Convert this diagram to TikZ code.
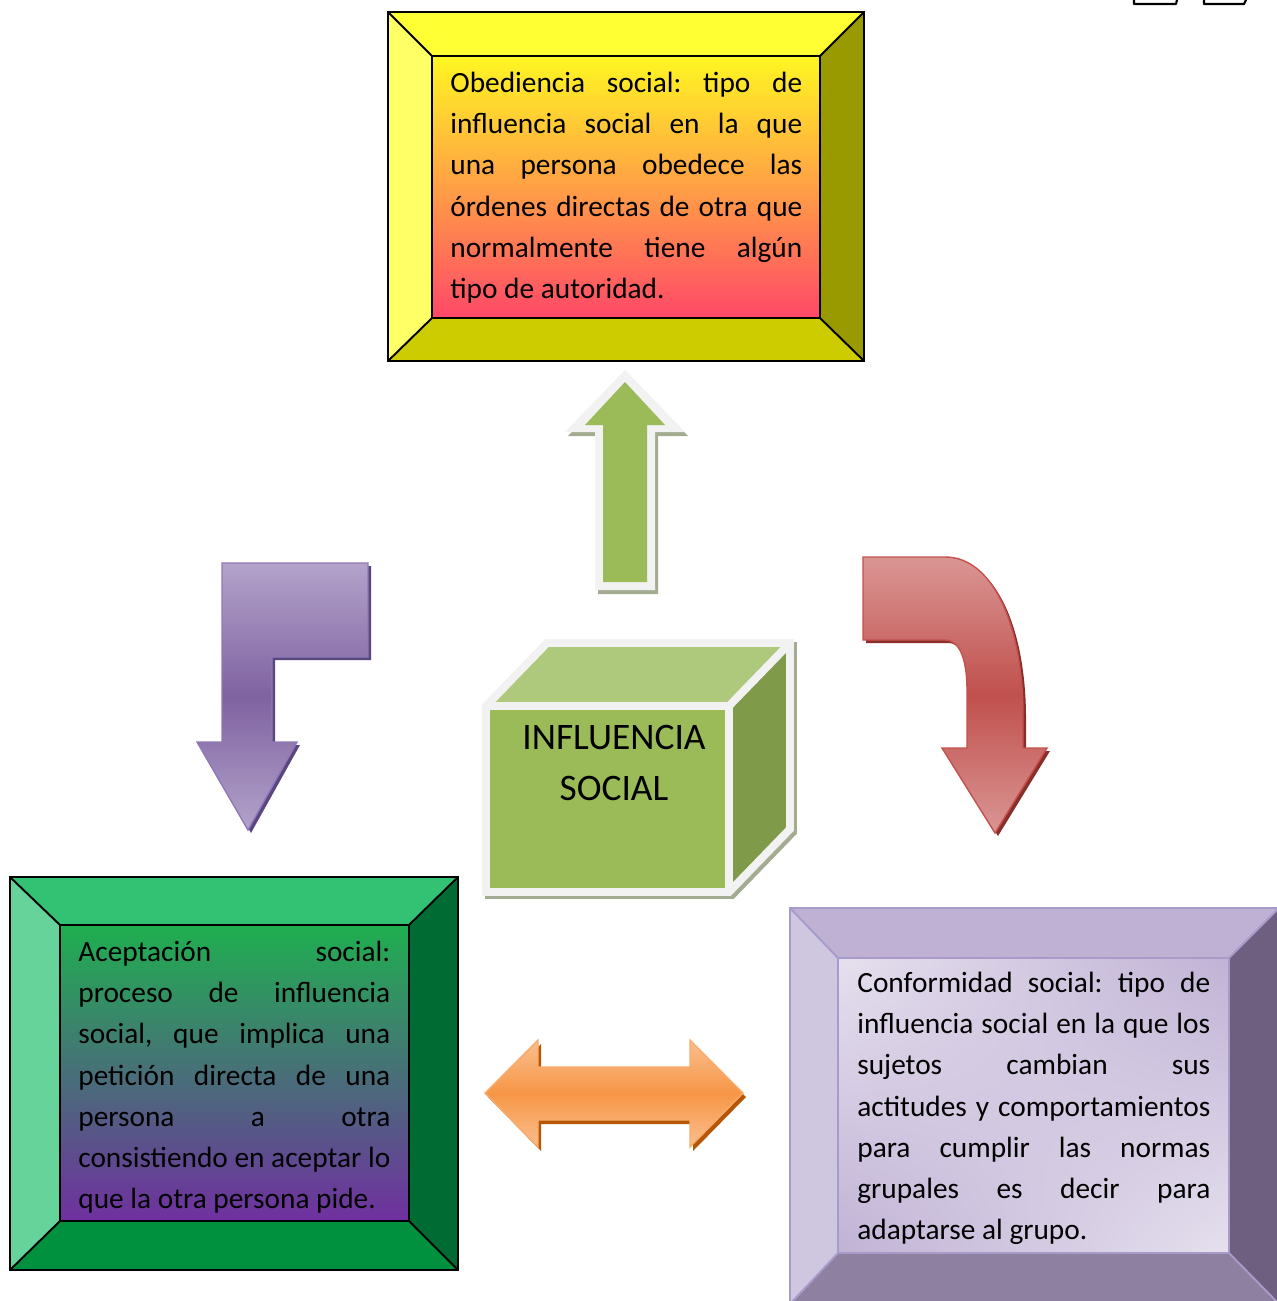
\documentclass[tikz,border=0pt]{standalone}
\usepackage{fontspec}
\setmainfont{Carlito}
\usetikzlibrary{calc,shadings}

\definecolor{ytop}{HTML}{FFFF33}
\definecolor{yleft}{HTML}{FFFF66}
\definecolor{yright}{HTML}{999900}
\definecolor{ybot}{HTML}{CCCC00}
\definecolor{yinTop}{HTML}{FFF722}
\definecolor{yinBot}{HTML}{FF4868}
\definecolor{gtop}{HTML}{33C173}
\definecolor{gleft}{HTML}{66D39A}
\definecolor{gright}{HTML}{006B33}
\definecolor{gbot}{HTML}{00913F}
\definecolor{ginTop}{HTML}{1FAF50}
\definecolor{ginBot}{HTML}{7030A0}
\definecolor{ptop}{HTML}{BFB1D3}
\definecolor{pleft}{HTML}{CFC6DF}
\definecolor{pright}{HTML}{6E5E7F}
\definecolor{pbot}{HTML}{8E80A1}
\definecolor{pinLight}{HTML}{E6E0EE}
\definecolor{pinDark}{HTML}{C0B2D5}
\definecolor{pline}{HTML}{A99BC9}
\definecolor{cubefront}{HTML}{9BBB59}
\definecolor{cubetop}{HTML}{AFC97C}
\definecolor{cuberight}{HTML}{7F9A48}
\definecolor{cubeedge}{HTML}{F2F2F2}
\definecolor{cubeshadow}{HTML}{A3AC90}
\definecolor{vioLight}{HTML}{B3A3CA}
\definecolor{vioDark}{HTML}{7F62A1}
\definecolor{vioLine}{HTML}{8F78B8}
\definecolor{vioShadow}{HTML}{5B4780}
\definecolor{redLight}{HTML}{DA9694}
\definecolor{redDark}{HTML}{C0504D}
\definecolor{redLine}{HTML}{C4514E}
\definecolor{redShadow}{HTML}{8A2E2B}
\definecolor{oraLight}{HTML}{FABF8F}
\definecolor{oraDark}{HTML}{F79646}
\definecolor{oraShadow}{HTML}{B65708}

\tikzstyle{frameline} = [draw=black,line width=1.1pt]
\tikzstyle{softline} = [draw=pline,line width=1.1pt]
\tikzstyle{boxtext} = [anchor=base west,inner sep=0pt,font=\fontsize{16.7pt}{23.47pt}\selectfont]
\tikzstyle{cubetext} = [inner sep=0pt,align=center,font=\fontsize{21.3pt}{29.5pt}\selectfont]
\tikzstyle{cubeline} = [draw=cubeedge,line width=4.5pt,line join=miter]

\newcommand{\boxpar}[2]{\parbox[t]{#1}{\frenchspacing\hyphenpenalty=10000 #2}}

\newcommand{\bevelframe}[7]{%
  \fill[#2] (#1A) -- (#1A -| #1B) -- (#1a -| #1b) -- (#1a) -- cycle;
  \fill[#3] (#1A) -- (#1a) -- (#1a |- #1b) -- (#1A |- #1B) -- cycle;
  \fill[#4] (#1A -| #1B) -- (#1B) -- (#1b) -- (#1a -| #1b) -- cycle;
  \fill[#5] (#1A |- #1B) -- (#1a |- #1b) -- (#1b) -- (#1B) -- cycle;
  \shade[#7] (#1a) rectangle (#1b);
  \draw[#6] (#1A) rectangle (#1B) (#1a) rectangle (#1b)
    (#1A) -- (#1a) (#1A -| #1B) -- (#1a -| #1b)
    (#1A |- #1B) -- (#1a |- #1b) (#1B) -- (#1b);
}

\begin{document}
\begin{tikzpicture}[x=0.02cm,y=-0.02cm]
\useasboundingbox (0,0) rectangle (1277,1301);

\draw[line width=1.2pt,line join=round] (1134,0) -- (1134,4) -- (1176,4) -- (1177,0);
\draw[line width=1.2pt,line join=round] (1204,0) -- (1204,4) -- (1244,4) -- (1246,0);

\coordinate (obA) at (388,12);
\coordinate (obB) at (864,361);
\coordinate (oba) at (432,56);
\coordinate (obb) at (820,318);
\bevelframe{ob}{ytop}{yleft}{yright}{ybot}{frameline}{top color=yinTop,bottom color=yinBot}

\coordinate (acA) at (10,877);
\coordinate (acB) at (458,1270);
\coordinate (aca) at (60,925);
\coordinate (acb) at (409,1221);
\bevelframe{ac}{gtop}{gleft}{gright}{gbot}{frameline}{top color=ginTop,bottom color=ginBot}

\coordinate (coA) at (790,908);
\coordinate (coB) at (1279,1304);
\coordinate (coa) at (838,958);
\coordinate (cob) at (1229,1253);
\bevelframe{co}{ptop}{pleft}{pright}{pbot}{softline}{upper left=pinLight,lower right=pinLight,upper right=pinDark,lower left=pinDark}

\node (obedtxt) [boxtext] at (450,92.5) {\boxpar{7.04cm}{Obediencia social: tipo de\linebreak influencia social en la que\linebreak una persona obedece las\linebreak órdenes directas de otra que\linebreak normalmente tiene algún\linebreak tipo de autoridad.}};
\node (acepttxt) [boxtext] at (78,961.5) {\boxpar{6.24cm}{Aceptación social:\linebreak proceso de influencia\linebreak social, que implica una\linebreak petición directa de una\linebreak persona a otra\linebreak consistiendo en aceptar lo\linebreak que la otra persona pide.}};
\node (conftxt) [boxtext] at (857,992.5) {\boxpar{7.06cm}{Conformidad social: tipo de\linebreak influencia social en la que los\linebreak sujetos cambian sus\linebreak actitudes y comportamientos\linebreak para cumplir las normas\linebreak grupales es decir para\linebreak adaptarse al grupo.}};

\fill[cubeshadow] (598,594) -- (598,436) -- (568,436) -- (628,374) -- (688,436) -- (658,436) -- (658,594) -- cycle;
\fill[cubeedge] (595,590) -- (595,432) -- (565,432) -- (625,370) -- (685,432) -- (655,432) -- (655,590) -- cycle;
\fill[cubefront] (603,582) -- (603,425) -- (585,425) -- (625,382) -- (665,425) -- (647,425) -- (647,582) -- cycle;

\fill[vioShadow,shift={(3,3)}] (222,563) -- (368,563) -- (368,657) -- (272,657) -- (272,742) -- (297,742) -- (248,830) -- (197,742) -- (222,742) -- cycle;
\draw[vioLine,line width=0.8pt,top color=vioLight,bottom color=vioLight,middle color=vioDark] (222,563) -- (368,563) -- (368,657) -- (272,657) -- (272,742) -- (297,742) -- (248,830) -- (197,742) -- (222,742) -- cycle;

\fill[redShadow,shift={(3,3)}] (863,557) -- (945,557) .. controls (995,557) and (1023,630) .. (1023,715) -- (1023,748) -- (1047,748) -- (995,833) -- (942,748) -- (967,748) -- (967,690) .. controls (967,660) and (960,640) .. (945,640) -- (863,640) -- cycle;
\draw[redLine,line width=0.8pt,top color=redLight,bottom color=redLight,middle color=redDark] (863,557) -- (945,557) .. controls (995,557) and (1023,630) .. (1023,715) -- (1023,748) -- (1047,748) -- (995,833) -- (942,748) -- (967,748) -- (967,690) .. controls (967,660) and (960,640) .. (945,640) -- (863,640) -- cycle;

\fill[oraShadow,shift={(3,4)}] (485,1093) -- (538,1040) -- (538,1067) -- (690,1067) -- (690,1040) -- (743,1093) -- (690,1147) -- (690,1120) -- (538,1120) -- (538,1147) -- cycle;
\draw[oraDark!80!white,line width=0.8pt,top color=oraLight,bottom color=oraLight,middle color=oraDark] (485,1093) -- (538,1040) -- (538,1067) -- (690,1067) -- (690,1040) -- (743,1093) -- (690,1147) -- (690,1120) -- (538,1120) -- (538,1147) -- cycle;

\draw[cubeshadow,line width=4.5pt,shift={(3,3)}] (486,706) -- (547,643) -- (790,643) -- (790,829) -- (729,892) -- (486,892) -- cycle;
\fill[cubefront] (486,706) rectangle (729,892);
\fill[cubetop] (486,706) -- (547,643) -- (790,643) -- (729,706) -- cycle;
\fill[cuberight] (729,706) -- (790,643) -- (790,829) -- (729,892) -- cycle;
\draw[cubeline] (486,706) -- (547,643) -- (790,643) -- (790,829) -- (729,892) -- (486,892) -- cycle;
\draw[cubeline] (486,706) -- (729,706) -- (790,643) (729,706) -- (729,892);
\node (cube) [cubetext] at (614,763) {INFLUENCIA\\SOCIAL};

\end{tikzpicture}
\end{document}
